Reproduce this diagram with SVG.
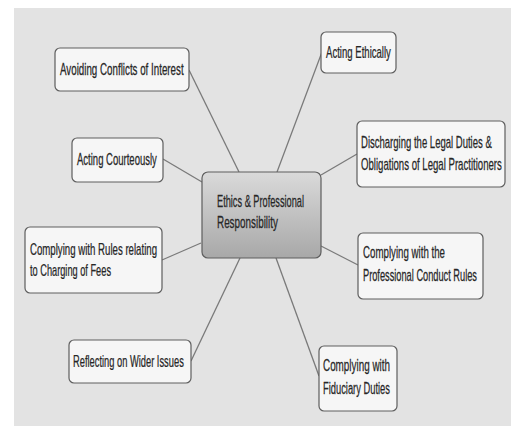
<svg xmlns="http://www.w3.org/2000/svg" width="511" height="426" viewBox="0 0 511 426">
<defs>
<linearGradient id="cg" x1="0" y1="0" x2="0" y2="1">
<stop offset="0" stop-color="#dadada"/>
<stop offset="1" stop-color="#a8a8a8"/>
</linearGradient>
<style>
.n{fill:#f6f6f6;stroke:#5e5e5e;stroke-width:1.2}
.c{fill:url(#cg);stroke:#5e5e5e;stroke-width:1.2}
.t{font-family:"Liberation Sans",Arial,sans-serif;font-size:16px;fill:#262626;stroke:#262626;stroke-width:0.25}
.l{stroke:#7a7a7a;stroke-width:1.3;fill:none}
</style>
</defs>
<rect x="0" y="0" width="511" height="426" fill="#ffffff"/>
<rect x="14" y="8" width="497" height="418" fill="#e3e3e3"/>
<g id="connectors">
<line class="l" x1="189" y1="70" x2="239" y2="172"/>
<line class="l" x1="322" y1="52" x2="277" y2="172"/>
<line class="l" x1="357" y1="154" x2="321" y2="175"/>
<line class="l" x1="163" y1="159" x2="202" y2="182"/>
<line class="l" x1="162" y1="260" x2="201" y2="243"/>
<line class="l" x1="358" y1="265" x2="321" y2="246"/>
<line class="l" x1="191" y1="361" x2="240" y2="258"/>
<line class="l" x1="319" y1="376" x2="276" y2="258"/>
</g>
<g id="center">
<rect class="c" x="202" y="172" width="119" height="86" rx="6"/>
<text class="t" transform="translate(217,207) scale(0.576,1)">Ethics &amp; Professional</text>
<text class="t" transform="translate(217,228) scale(0.618,1)">Responsibility</text>
</g>
<g id="avoiding">
<rect class="n" x="55" y="48" width="134" height="43" rx="5"/>
<text class="t" transform="translate(60,75) scale(0.611,1)">Avoiding Conflicts of Interest</text>
</g>
<g id="ethically">
<rect class="n" x="321" y="32" width="75" height="41" rx="5"/>
<text class="t" transform="translate(326,58) scale(0.599,1)">Acting Ethically</text>
</g>
<g id="discharging">
<rect class="n" x="357" y="121" width="148" height="66" rx="5"/>
<text class="t" transform="translate(361,148) scale(0.596,1)">Discharging the Legal Duties &amp;</text>
<text class="t" transform="translate(361,170) scale(0.600,1)">Obligations of Legal Practitioners</text>
</g>
<g id="courteously">
<rect class="n" x="72" y="138" width="91" height="44" rx="5"/>
<text class="t" transform="translate(77,165) scale(0.595,1)">Acting Courteously</text>
</g>
<g id="fees">
<rect class="n" x="25" y="227" width="137" height="66" rx="5"/>
<text class="t" transform="translate(30,255) scale(0.603,1)">Complying with Rules relating</text>
<text class="t" transform="translate(30,276) scale(0.577,1)">to Charging of Fees</text>
</g>
<g id="conduct">
<rect class="n" x="358" y="233" width="125" height="66" rx="5"/>
<text class="t" transform="translate(363,258) scale(0.607,1)">Complying with the</text>
<text class="t" transform="translate(363,281) scale(0.578,1)">Professional Conduct Rules</text>
</g>
<g id="wider">
<rect class="n" x="69" y="340" width="122" height="43" rx="5"/>
<text class="t" transform="translate(73,367) scale(0.583,1)">Reflecting on Wider Issues</text>
</g>
<g id="fiduciary">
<rect class="n" x="319" y="346" width="78" height="65" rx="5"/>
<text class="t" transform="translate(323,371) scale(0.618,1)">Complying with</text>
<text class="t" transform="translate(323,394) scale(0.584,1)">Fiduciary Duties</text>
</g>
</svg>
